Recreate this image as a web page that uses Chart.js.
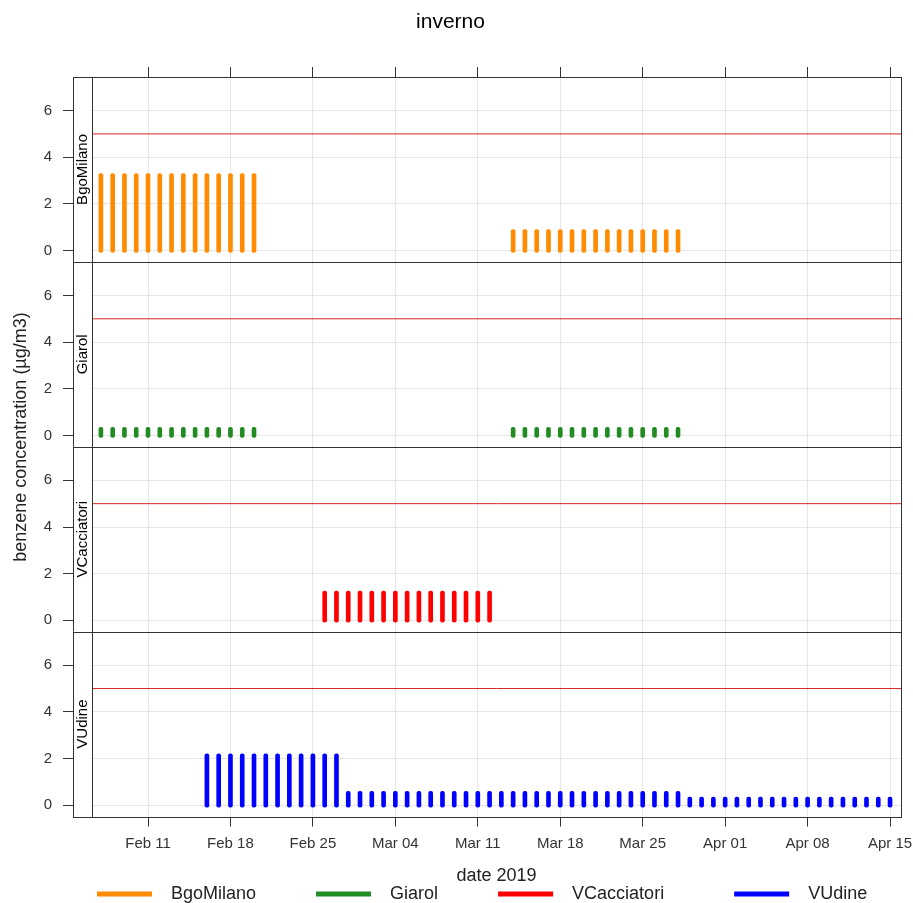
<!DOCTYPE html>
<html>
<head>
<meta charset="utf-8">
<title>inverno</title>
<script src="https://cdn.jsdelivr.net/npm/chart.js@4.4.1/dist/chart.umd.min.js"></script>
<style>
  html, body { margin: 0; padding: 0; background: #fff; overflow: hidden; }
</style>
</head>
<body>
<canvas id="grafico" width="913" height="903"></canvas>
<script>
const year = 2019;

const stations = ['BgoMilano', 'Giarol', 'VCacciatori', 'VUdine'];
const stationColors = ['#ff8c00', '#228b22', '#ff0000', '#0000ff'];

// daily benzene values (mese-giorno)
const bgoMilanoDates = [
    '02-07', '02-08', '02-09', '02-10', '02-11', '02-12', '02-13', '02-14', '02-15', '02-16', '02-17', '02-18', '02-19', '02-20',
    '03-14', '03-15', '03-16', '03-17', '03-18', '03-19', '03-20', '03-21', '03-22', '03-23', '03-24', '03-25', '03-26', '03-27', '03-28'
];
const bgoMilanoValues = [
    3.3, 3.3, 3.3, 3.3, 3.3, 3.3, 3.3, 3.3, 3.3, 3.3, 3.3, 3.3, 3.3, 3.3,
    0.9, 0.9, 0.9, 0.9, 0.9, 0.9, 0.9, 0.9, 0.9, 0.9, 0.9, 0.9, 0.9, 0.9, 0.9
];

const giarolDates = [
    '02-07', '02-08', '02-09', '02-10', '02-11', '02-12', '02-13', '02-14', '02-15', '02-16', '02-17', '02-18', '02-19', '02-20',
    '03-14', '03-15', '03-16', '03-17', '03-18', '03-19', '03-20', '03-21', '03-22', '03-23', '03-24', '03-25', '03-26', '03-27', '03-28'
];
const giarolValues = [
    0.35, 0.35, 0.35, 0.35, 0.35, 0.35, 0.35, 0.35, 0.35, 0.35, 0.35, 0.35, 0.35, 0.35,
    0.35, 0.35, 0.35, 0.35, 0.35, 0.35, 0.35, 0.35, 0.35, 0.35, 0.35, 0.35, 0.35, 0.35, 0.35
];

const vCacciatoriDates = [
    '02-26', '02-27', '02-28', '03-01', '03-02', '03-03', '03-04', '03-05', '03-06', '03-07', '03-08', '03-09', '03-10', '03-11', '03-12'
];
const vCacciatoriValues = [
    1.25, 1.25, 1.25, 1.25, 1.25, 1.25, 1.25, 1.25, 1.25, 1.25, 1.25, 1.25, 1.25, 1.25, 1.25
];

const vUdineDates = [
    '02-16', '02-17', '02-18', '02-19', '02-20', '02-21', '02-22', '02-23', '02-24', '02-25', '02-26', '02-27', '02-28',
    '03-01', '03-02', '03-03', '03-04', '03-05', '03-06', '03-07', '03-08', '03-09', '03-10', '03-11', '03-12', '03-13', '03-14',
    '03-15', '03-16', '03-17', '03-18', '03-19', '03-20', '03-21', '03-22', '03-23', '03-24', '03-25', '03-26', '03-27', '03-28',
    '03-29', '03-30', '03-31', '04-01', '04-02', '04-03', '04-04', '04-05', '04-06', '04-07', '04-08', '04-09', '04-10', '04-11',
    '04-12', '04-13', '04-14', '04-15'
];
const vUdineValues = [
    2.2, 2.2, 2.2, 2.2, 2.2, 2.2, 2.2, 2.2, 2.2, 2.2, 2.2, 2.2, 0.6,
    0.6, 0.6, 0.6, 0.6, 0.6, 0.6, 0.6, 0.6, 0.6, 0.6, 0.6, 0.6, 0.6, 0.6,
    0.6, 0.6, 0.6, 0.6, 0.6, 0.6, 0.6, 0.6, 0.6, 0.6, 0.6, 0.6, 0.6, 0.6,
    0.35, 0.35, 0.35, 0.35, 0.35, 0.35, 0.35, 0.35, 0.35, 0.35, 0.35, 0.35, 0.35, 0.35,
    0.35, 0.35, 0.35, 0.35
];

const limitValue = 5;
const yTicks = [0, 2, 4, 6];
const xTickDates = ['02-11', '02-18', '02-25', '03-04', '03-11', '03-18', '03-25', '04-01', '04-08', '04-15'];
const xTickLabels = ['Feb 11', 'Feb 18', 'Feb 25', 'Mar 04', 'Mar 11', 'Mar 18', 'Mar 25', 'Apr 01', 'Apr 08', 'Apr 15'];

// days counted from 1 Feb
const toDay = (md) => {
    const [m, d] = md.split('-').map(Number);
    return (Date.UTC(year, m - 1, d) - Date.UTC(year, 1, 1)) / 86400000;
};

const xMin = 5.245;
const xMax = 73.93;
const yMin = -0.484;
const yMax = 7.44;

const seriesDates = [bgoMilanoDates, giarolDates, vCacciatoriDates, vUdineDates];
const seriesValues = [bgoMilanoValues, giarolValues, vCacciatoriValues, vUdineValues];
const axisIds = stations.map(name => 'y' + name);

const barDatasets = stations.map((name, i) => ({
    type: 'bar',
    label: name,
    data: seriesDates[i].map((d, j) => ({ x: toDay(d), y: seriesValues[i][j] })),
    xAxisID: 'x',
    yAxisID: axisIds[i],
    backgroundColor: stationColors[i],
    borderWidth: 0,
    borderRadius: 2,
    borderSkipped: false,
    barThickness: 4,
    grouped: false,
    base: -0.08,
    order: 1
}));

const limitDatasets = axisIds.map(id => ({
    type: 'line',
    label: 'limite',
    data: [{ x: xMin, y: limitValue }, { x: xMax, y: limitValue }],
    xAxisID: 'x',
    yAxisID: id,
    borderColor: '#d42525',
    borderWidth: 1,
    pointRadius: 0,
    fill: false,
    order: 2
}));

const weekTicks = (scale) => {
    scale.ticks = xTickDates.map(d => ({ value: toDay(d) }));
};

const panelAxis = (i) => ({
    type: 'linear',
    position: 'left',
    stack: 'panels',
    stackWeight: 1,
    weight: stations.length - i,
    min: yMin,
    max: yMax,
    afterBuildTicks: (scale) => { scale.ticks = yTicks.map(v => ({ value: v })); },
    afterFit: (scale) => {
        scale.width = 92;
        scale.paddingTop = 0;
        scale.paddingBottom = 0;
    },
    grid: { color: '#e6e6e6', tickColor: '#333', tickLength: 29 },
    border: { display: false },
    ticks: { padding: 11, color: '#333', font: { size: 15 } }
});

const scales = {
    x: {
        type: 'linear',
        position: 'bottom',
        min: xMin,
        max: xMax,
        offset: false,
        afterBuildTicks: weekTicks,
        afterFit: (scale) => {
            scale.height = 63.5;
            scale.paddingLeft = 0;
            scale.paddingRight = 0;
        },
        grid: { color: '#e6e6e6', tickColor: '#333', tickLength: 10, offset: false },
        border: { display: false },
        ticks: {
            callback: (v, i) => xTickLabels[i],
            autoSkip: false,
            maxRotation: 0,
            padding: 8,
            color: '#333',
            font: { size: 15 }
        },
        title: {
            display: true,
            text: 'date 2019',
            color: '#222',
            font: { size: 18 },
            padding: { top: 0, bottom: -7.3 }
        }
    },
    xTop: {
        type: 'linear',
        position: 'top',
        min: xMin,
        max: xMax,
        offset: false,
        afterBuildTicks: weekTicks,
        afterFit: (scale) => {
            scale.height = 10;
            scale.paddingLeft = 0;
            scale.paddingRight = 0;
        },
        grid: { drawOnChartArea: false, tickColor: '#333', tickLength: 10, offset: false },
        border: { display: false },
        ticks: { display: false }
    }
};
axisIds.forEach((id, i) => { scales[id] = panelAxis(i); });

// spaces that spread the key like the lattice one
const legendTrail = [11, 11, 13, 0];

const panelFrames = {
    id: 'panelFrames',
    afterDraw: (chart) => {
        const { ctx, chartArea } = chart;
        const stripWidth = 19;
        const stripLeft = chartArea.left - stripWidth;
        ctx.save();
        axisIds.forEach((id, i) => {
            const s = chart.scales[id];
            const top = Math.round(s.top) + 0.5;
            const bottom = Math.round(s.bottom) + 0.5;
            ctx.fillStyle = '#fff';
            ctx.fillRect(stripLeft, s.top, stripWidth, s.bottom - s.top);

            ctx.strokeStyle = '#333';
            ctx.lineWidth = 1;
            ctx.strokeRect(Math.round(stripLeft) + 0.5, top, Math.round(chartArea.right - stripLeft), bottom - top);
            ctx.beginPath();
            ctx.moveTo(Math.round(chartArea.left) + 0.5, top);
            ctx.lineTo(Math.round(chartArea.left) + 0.5, bottom);
            ctx.stroke();

            ctx.save();
            ctx.translate(stripLeft + stripWidth / 2, (s.top + s.bottom) / 2);
            ctx.rotate(-Math.PI / 2);
            ctx.fillStyle = '#000';
            ctx.font = '15px "Liberation Sans", Arial, sans-serif';
            ctx.textAlign = 'center';
            ctx.textBaseline = 'middle';
            ctx.fillText(stations[i], 0, 0);
            ctx.restore();
        });

        ctx.translate(21, 437);
        ctx.rotate(-Math.PI / 2);
        ctx.fillStyle = '#222';
        ctx.font = '18px "Liberation Sans", Arial, sans-serif';
        ctx.textAlign = 'center';
        ctx.textBaseline = 'middle';
        ctx.fillText('benzene concentration (\u00b5g/m3)', 0, 0);
        ctx.restore();
    }
};

Chart.defaults.font.family = '"Liberation Sans", Arial, sans-serif';
Chart.defaults.color = '#222';

new Chart(document.getElementById('grafico'), {
    type: 'bar',
    data: { datasets: [...barDatasets, ...limitDatasets] },
    options: {
        responsive: false,
        devicePixelRatio: 1,
        animation: false,
        layout: { padding: { left: 0, right: 12, top: 0, bottom: -10 } },
        scales: scales,
        plugins: {
            title: {
                display: true,
                text: 'inverno',
                color: '#000',
                font: { size: 21, weight: 'normal' },
                padding: { top: 10, bottom: 31.8 }
            },
            legend: {
                position: 'bottom',
                align: 'start',
                fullSize: false,
                labels: {
                    boxWidth: 55,
                    boxHeight: 5,
                    padding: 5,
                    color: '#222',
                    font: { size: 18 },
                    generateLabels: (chart) => Chart.defaults.plugins.legend.labels.generateLabels(chart)
                        .filter(item => item.datasetIndex < stations.length)
                        .map((item, i) => ({ ...item, text: '  ' + item.text + ' '.repeat(legendTrail[i]) }))
                }
            },
            tooltip: { enabled: false }
        }
    },
    plugins: [panelFrames]
});
</script>
</body>
</html>
